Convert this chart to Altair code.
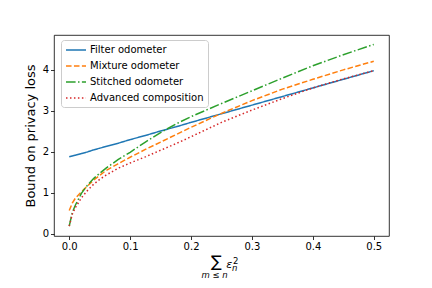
import altair as alt
import pandas as pd

x_vals = [0, 0.005, 0.01, 0.02, 0.03, 0.04, 0.05, 0.06, 0.08, 0.1, 0.125, 0.15,
          0.175, 0.2, 0.25, 0.3, 0.35, 0.4, 0.45, 0.5]
filter_vals = [1.88, 1.90, 1.92, 1.96, 2.00, 2.05, 2.09, 2.13, 2.21, 2.30, 2.40, 2.51,
               2.61, 2.72, 2.93, 3.14, 3.35, 3.56, 3.77, 3.98]
mixture_vals = [0.57, 0.75, 0.87, 1.03, 1.17, 1.31, 1.43, 1.54, 1.71, 1.87, 2.06, 2.24,
                2.42, 2.60, 2.94, 3.25, 3.53, 3.77, 4.00, 4.21]
stitched_vals = [0.19, 0.52, 0.70, 0.99, 1.19, 1.35, 1.48, 1.60, 1.81, 1.99, 2.24, 2.47,
                 2.68, 2.86, 3.18, 3.49, 3.80, 4.10, 4.37, 4.62]
advanced_vals = [0.19, 0.48, 0.64, 0.88, 1.06, 1.21, 1.33, 1.43, 1.60, 1.73, 1.88, 2.04,
                 2.20, 2.37, 2.72, 3.02, 3.30, 3.56, 3.78, 3.98]

series_names = ["Filter odometer", "Mixture odometer", "Stitched odometer", "Advanced composition"]
series_colors = ["#1f77b4", "#ff7f0e", "#2ca02c", "#d62728"]
series_dashes = [[1, 0], [5.55, 2.4], [9.6, 2.4, 1.5, 2.4], [1.5, 2.475]]
x_ticks = [0.0, 0.1, 0.2, 0.3, 0.4, 0.5]
y_ticks = [0, 1, 2, 3, 4]

rows = []
for name, vals in zip(series_names, [filter_vals, mixture_vals, stitched_vals, advanced_vals]):
    for i, (xv, yv) in enumerate(zip(x_vals, vals)):
        rows.append({"x": xv, "y": yv, "series": name, "order": i})
df = pd.DataFrame(rows)

FONT = "DejaVu Sans"

lines = alt.Chart(df).mark_line(strokeWidth=1.5, clip=False).encode(
    x=alt.X("x:Q", scale=alt.Scale(domain=[-0.025, 0.525], nice=False, zero=False),
            axis=alt.Axis(values=x_ticks, format=".1f", title=None)),
    y=alt.Y("y:Q", scale=alt.Scale(domain=[-0.05, 4.85], nice=False, zero=False),
            axis=alt.Axis(values=y_ticks, format="d", title="Bound on privacy loss")),
    order="order:Q",
    color=alt.Color("series:N", scale=alt.Scale(domain=series_names, range=series_colors),
                    sort=series_names,
                    legend=alt.Legend(orient="none", legendX=7, legendY=5, title=None,
                                      symbolType="M-2,0H2", symbolSize=100,
                                      symbolStrokeWidth=1.5, symbolOffset=5,
                                      labelOffset=8, rowPadding=5, padding=4,
                                      labelFont=FONT, labelFontSize=10, labelColor="black",
                                      strokeColor="#cccccc", fillColor="white",
                                      cornerRadius=3)),
    strokeDash=alt.StrokeDash("series:N", scale=alt.Scale(domain=series_names, range=series_dashes),
                              sort=series_names, legend=None),
)

one = pd.DataFrame({"a": [0]})
sigma = alt.Chart(one).mark_text(text="∑", font=FONT, fontSize=16, align="center",
                                 baseline="alphabetic", color="black").encode(
    x=alt.value(162.3), y=alt.value(232))
eps = alt.Chart(one).mark_text(text="ε", font=FONT, fontSize=11, fontStyle="italic",
                               align="center", baseline="alphabetic", color="black").encode(
    x=alt.value(175.3), y=alt.value(233.3))
sup2 = alt.Chart(one).mark_text(text="2", font=FONT, fontSize=8.5, align="center",
                                baseline="alphabetic", color="black").encode(
    x=alt.value(181.8), y=alt.value(228.5))
subn = alt.Chart(one).mark_text(text="n", font=FONT, fontSize=8.5, fontStyle="italic",
                                align="center", baseline="alphabetic", color="black").encode(
    x=alt.value(180.8), y=alt.value(236))
under = alt.Chart(one).mark_text(text="m ≤ n", font=FONT, fontSize=8.5, fontStyle="italic",
                                 align="center", baseline="alphabetic", color="black").encode(
    x=alt.value(160.5), y=alt.value(242.7))

chart = alt.layer(lines, sigma, eps, sup2, subn, under).properties(
    width=335, height=201,
    autosize=alt.AutoSizeParams(type="none"),
    padding={"left": 46, "top": 27, "right": 35, "bottom": 44},
).configure_view(
    stroke="black", strokeWidth=0.8
).configure_axis(
    grid=False, domain=False, ticks=True, tickColor="black", tickWidth=0.8, tickSize=3.5,
    labelFont=FONT, labelFontSize=10, labelColor="black", labelPadding=2,
    titleFont=FONT, titleFontSize=13, titleFontWeight="normal", titleColor="black",
    titlePadding=5,
)

chart.save("out.html", embed_options={"renderer": "svg", "actions": False})
